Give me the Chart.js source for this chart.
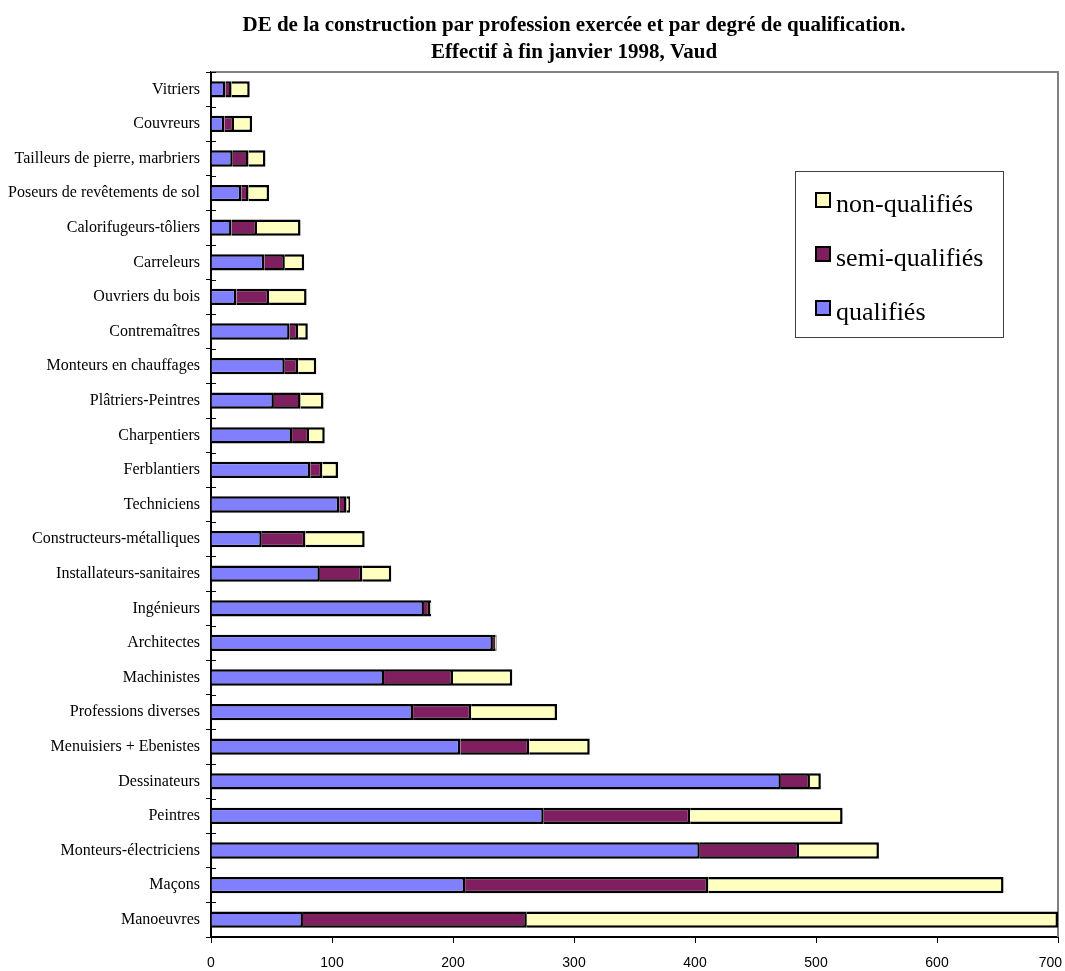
<!DOCTYPE html>
<html>
<head>
<meta charset="utf-8">
<script src="https://cdn.jsdelivr.net/npm/chart.js@4.4.1/dist/chart.umd.min.js"></script>
<style>
html, body { margin: 0; padding: 0; background: #fff; }
</style>
</head>
<body>
<canvas id="chart" width="1065" height="971"></canvas>
<script>
// professions, du haut vers le bas
const categories = [
    'Vitriers', 'Couvreurs', 'Tailleurs de pierre, marbriers', 'Poseurs de revêtements de sol',
    'Calorifugeurs-tôliers', 'Carreleurs', 'Ouvriers du bois', 'Contremaîtres',
    'Monteurs en chauffages', 'Plâtriers-Peintres', 'Charpentiers', 'Ferblantiers',
    'Techniciens', 'Constructeurs-métalliques', 'Installateurs-sanitaires', 'Ingénieurs',
    'Architectes', 'Machinistes', 'Professions diverses', 'Menuisiers + Ebenistes',
    'Dessinateurs', 'Peintres', 'Monteurs-électriciens', 'Maçons', 'Manoeuvres'
];
const qualifies     = [12, 11, 18, 25, 17, 44, 21, 65, 61, 52, 67, 82, 106, 42, 90, 176, 233, 143, 167, 206, 471, 275, 404, 210, 76];
const semiQualifies = [5, 8, 13, 6, 21, 17, 27, 7, 11, 22, 14, 10, 6, 36, 35, 5, 2, 57, 48, 57, 24, 121, 82, 201, 185];
const nonQualifies  = [15, 15, 14, 17, 36, 16, 31, 8, 15, 19, 13, 13, 3, 49, 24, 1, 1, 49, 71, 50, 9, 126, 66, 244, 439];
const xTicks = [0, 100, 200, 300, 400, 500, 600, 700];
const titleLines = [
    'DE de la construction par profession exercée et par degré de qualification.',
    'Effectif à fin janvier 1998, Vaud'
];

const serif = "'Liberation Serif', 'Times New Roman', serif";
const sans = "'Liberation Sans', Arial, sans-serif";

// titre en deux lignes au-dessus du graphique
const titlePlugin = {
    id: 'titlePlugin',
    afterDraw(chart) {
        const ctx = chart.ctx;
        ctx.save();
        ctx.fillStyle = '#000';
        ctx.font = 'bold 21px ' + serif;
        ctx.textAlign = 'center';
        ctx.textBaseline = 'alphabetic';
        ctx.fillText(titleLines[0], 574, 31);
        ctx.fillText(titleLines[1], 574, 58);
        ctx.restore();
    }
};

// cadre gris + petites marques vers l'intérieur sur l'axe vertical
const framePlugin = {
    id: 'framePlugin',
    beforeDatasetsDraw(chart) {
        const a = chart.chartArea;
        const ctx = chart.ctx;
        ctx.save();
        ctx.strokeStyle = '#808080';
        ctx.lineWidth = 2;
        ctx.beginPath();
        ctx.moveTo(a.left, a.top);
        ctx.lineTo(a.right, a.top);
        ctx.lineTo(a.right, a.bottom);
        ctx.stroke();
        ctx.strokeStyle = '#000';
        ctx.lineWidth = 1;
        const n = categories.length;
        ctx.beginPath();
        for (let i = 0; i <= n; i++) {
            const y = Math.round(a.top + i * (a.bottom - a.top) / n) + 0.5;
            ctx.moveTo(a.left, y);
            ctx.lineTo(a.left + 5, y);
        }
        ctx.stroke();
        ctx.restore();
    }
};

// étiquettes de l'axe horizontal (la dernière reste dans le cadre)
const xLabelPlugin = {
    id: 'xLabelPlugin',
    afterDraw(chart) {
        const ctx = chart.ctx;
        const scale = chart.scales.x;
        ctx.save();
        ctx.fillStyle = '#000';
        ctx.font = '14px ' + sans;
        ctx.textAlign = 'center';
        ctx.textBaseline = 'middle';
        xTicks.forEach(v => {
            const txt = String(v);
            const w = ctx.measureText(txt).width;
            const x = Math.min(scale.getPixelForValue(v), chart.width - 3 - w / 2);
            ctx.fillText(txt, x, scale.top + 26);
        });
        ctx.restore();
    }
};

// légende encadrée dans la zone du graphique (ordre inversé)
const legendPlugin = {
    id: 'legendPlugin',
    afterDraw(chart) {
        const ctx = chart.ctx;
        ctx.save();
        ctx.fillStyle = '#fff';
        ctx.fillRect(795, 171, 208, 166);
        ctx.strokeStyle = '#404040';
        ctx.lineWidth = 1;
        ctx.strokeRect(795.5, 171.5, 208, 166);
        const ds = chart.data.datasets.slice().reverse();
        ds.forEach((d, i) => {
            const y = 193 + i * 54;
            ctx.fillStyle = d.backgroundColor;
            ctx.fillRect(816, y, 14, 14);
            ctx.strokeStyle = '#000';
            ctx.lineWidth = 2;
            ctx.strokeRect(816, y, 14, 14);
            ctx.fillStyle = '#000';
            ctx.font = '26px ' + serif;
            ctx.textAlign = 'left';
            ctx.textBaseline = 'alphabetic';
            ctx.fillText(d.label, 836, y + 19);
        });
        ctx.restore();
    }
};

const ctx = document.getElementById('chart').getContext('2d');

new Chart(ctx, {
    type: 'bar',
    data: {
        labels: categories,
        datasets: [
            {
                label: 'qualifiés',
                data: qualifies,
                backgroundColor: '#8080ff',
                borderColor: '#000',
                borderWidth: 2.5
            },
            {
                label: 'semi-qualifiés',
                data: semiQualifies,
                backgroundColor: '#7f1f5f',
                borderColor: '#000',
                borderWidth: 2.5
            },
            {
                label: 'non-qualifiés',
                data: nonQualifies,
                backgroundColor: '#ffffc0',
                borderColor: '#000',
                borderWidth: 2.5
            }
        ]
    },
    options: {
        indexAxis: 'y',
        responsive: false,
        animation: false,
        events: [],
        layout: {
            padding: { top: 72, right: 7, left: 0, bottom: 0 }
        },
        datasets: {
            bar: { barPercentage: 0.47, categoryPercentage: 1 }
        },
        plugins: {
            legend: { display: false },
            title: { display: false },
            tooltip: { enabled: false }
        },
        scales: {
            x: {
                stacked: true,
                min: 0,
                max: 700,
                afterBuildTicks(scale) {
                    scale.ticks = xTicks.map(v => ({ value: v }));
                },
                afterFit(scale) {
                    scale.height = 34;
                },
                grid: {
                    drawOnChartArea: false,
                    drawTicks: true,
                    tickLength: 6,
                    color: '#000'
                },
                border: { color: '#000', width: 2 },
                ticks: { display: false }
            },
            y: {
                stacked: true,
                afterFit(scale) {
                    scale.width = 211;
                },
                grid: {
                    offset: true,
                    drawOnChartArea: false,
                    drawTicks: true,
                    tickLength: 5,
                    color: '#000'
                },
                border: { color: '#000', width: 2 },
                ticks: {
                    color: '#000',
                    padding: 6,
                    autoSkip: false,
                    font: { family: serif, size: 16 }
                }
            }
        }
    },
    plugins: [titlePlugin, framePlugin, xLabelPlugin, legendPlugin]
});
</script>
</body>
</html>
